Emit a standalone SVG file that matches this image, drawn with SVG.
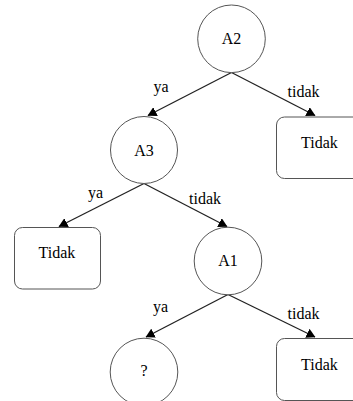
<svg xmlns="http://www.w3.org/2000/svg" width="353" height="401" viewBox="0 0 353 401" font-family="'Liberation Serif', 'DejaVu Serif', serif">
<defs>
<style>
.node{fill:#fff;stroke:#555;stroke-width:1}
.edge{stroke:#222;stroke-width:1.3;fill:none}
.t{font-family:'Liberation Serif','DejaVu Serif',serif;font-size:16px;fill:#000;text-anchor:middle}
</style>
<marker id="ah" markerUnits="userSpaceOnUse" markerWidth="9" markerHeight="10" viewBox="0 0 9 10" refX="8.5" refY="5" orient="auto">
<path d="M0,0 L9,5 L0,10 z" fill="#000"/>
</marker>
</defs>
<rect width="353" height="401" fill="#fff"/>
<g id="connectors">
<line class="edge" x1="231.5" y1="72.5" x2="148" y2="115.5" marker-end="url(#ah)"/>
<line class="edge" x1="231.5" y1="72.5" x2="315" y2="115.5" marker-end="url(#ah)"/>
<line class="edge" x1="144" y1="183.5" x2="59" y2="226.5" marker-end="url(#ah)"/>
<line class="edge" x1="144" y1="183.5" x2="227" y2="226.5" marker-end="url(#ah)"/>
<line class="edge" x1="228" y1="294.5" x2="146" y2="337" marker-end="url(#ah)"/>
<line class="edge" x1="228" y1="294.5" x2="315" y2="337" marker-end="url(#ah)"/>
<text class="t" x="161" y="92">ya</text>
<text class="t" x="303.5" y="97">tidak</text>
<text class="t" x="95.5" y="198">ya</text>
<text class="t" x="205" y="204">tidak</text>
<text class="t" x="160.5" y="312">ya</text>
<text class="t" x="303.5" y="319">tidak</text>
</g>
<g id="A2">
<circle class="node" cx="231.5" cy="38.8" r="33.8"/>
<text class="t" x="231.5" y="44">A2</text>
</g>
<g id="Tidak1">
<rect class="node" x="276.5" y="117" width="90" height="61.5" rx="8"/>
<text class="t" x="319.5" y="148">Tidak</text>
</g>
<g id="A3">
<circle class="node" cx="144" cy="150" r="33.5"/>
<text class="t" x="144" y="155.5">A3</text>
</g>
<g id="Tidak2">
<rect class="node" x="14.5" y="227.5" width="86" height="61.5" rx="8"/>
<text class="t" x="57" y="258">Tidak</text>
</g>
<g id="A1">
<circle class="node" cx="228" cy="261" r="33.8"/>
<text class="t" x="228" y="266">A1</text>
</g>
<g id="Q">
<circle class="node" cx="144" cy="372" r="33.8"/>
<text class="t" x="144" y="376">?</text>
</g>
<g id="Tidak3">
<rect class="node" x="276.5" y="338.5" width="90" height="62" rx="8"/>
<text class="t" x="319.5" y="369.5">Tidak</text>
</g>
</svg>
